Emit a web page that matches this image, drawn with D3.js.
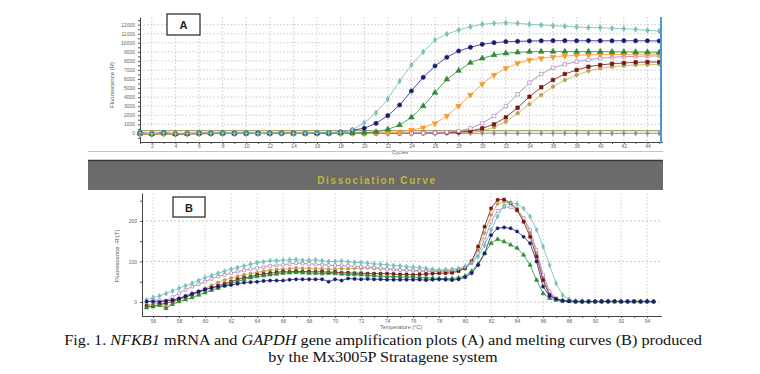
<!DOCTYPE html>
<html><head><meta charset="utf-8">
<script src="https://cdn.jsdelivr.net/npm/d3@7"></script>
<style>body{margin:0;background:#fff}svg{display:block}</style>
</head><body>
<svg id="c" width="760" height="374"></svg>
<script>
// ---------- Panel A : amplification plot ----------
const cycles = d3.range(1, 46);
const cycleTicks = [2,4,6,8,10,12,14,16,18,20,22,24,26,28,30,32,34,36,38,40,42,44];
const fluorTicks = [0,1000,2000,3000,4000,5000,6000,7000,8000,9000,10000,11000,12000];
const thresholdA = 300;

const ampTeal = [20,-60,40,-50,-30,10,0,20,-10,10,-20,0,10,-10,0,30,60,111,407,1148,2259,3777,5777,7555,9000,10300,10972,11414,11780,12044,12154,12222,12154,12044,11970,11897,11823,11750,11675,11675,11600,11565,11490,11380,11306];
const ampNavy = [80,-40,70,-60,-30,20,0,10,-10,0,10,-10,0,10,-20,0,50,150,365,550,1100,1945,3127,4674,6188,7436,8398,9094,9503,9834,10011,10122,10160,10200,10220,10230,10230,10220,10230,10220,10220,10230,10220,10220,10200];
const ampGreen = [-20,-80,30,-60,-40,0,10,20,0,10,-10,0,20,-10,0,10,0,20,30,60,150,440,917,1768,3017,4490,5967,6917,7801,8287,8652,8840,8950,9017,9030,9030,9030,9020,9030,9020,9010,9000,8990,8970,8950];
const ampOrange = [-150,-120,-100,-110,-80,-40,-30,-20,-20,-10,-10,0,-10,0,-20,-10,0,-10,0,10,20,60,150,365,620,1100,1912,3017,4232,5448,6442,7182,7735,8099,8287,8431,8541,8616,8660,8690,8710,8720,8730,8740,8740];
const ampPurple = [-40,-60,-30,-70,-50,-20,-10,0,-10,0,-10,0,10,-10,0,0,-10,0,10,0,-10,0,10,20,30,60,120,254,550,1100,1912,3017,4309,5591,6552,7249,7624,7912,8133,8287,8398,8467,8500,8541,8541];
const ampRed = [-60,-80,-50,-90,-70,-40,-30,-20,-20,-10,-20,-10,0,-10,-10,0,-10,0,0,-10,0,10,0,10,20,40,70,120,250,550,994,1768,2830,4044,5083,5890,6552,6994,7359,7547,7690,7768,7845,7880,7880];
const ampOlive = [-100,-90,-70,-100,-80,-50,-40,-30,-30,-20,-20,-10,-10,-20,-10,0,-10,0,-10,0,0,10,0,10,10,20,40,50,120,250,663,1282,2210,3204,4232,5149,5890,6442,6884,7182,7359,7470,7547,7580,7620];
const ampGray = [0,-20,10,-10,0,10,0,-10,0,10,0,-10,0,0,10,0,-10,0,0,10,0,-10,0,0,10,0,0,-10,0,0,10,0,0,-10,0,0,0,10,0,0,-10,0,0,10,0];

// ---------- Panel B : dissociation (melting) curves ----------
const temps = d3.range(0, 79).map(i => 55.5 + 0.5 * i);
const tempTicks = [56,58,60,62,64,66,68,70,72,74,76,78,80,82,84,86,88,90,92,94];
const derivTicks = [0,100,200];

const melTeal = [5,11,15,21,27,34,40,46,53,60,65,71,76,81,85,89,93,97,99,102,102,103,104,105,103,103,104,102,100,100,101,99,98,97,96,94,93,92,90,89,87,86,85,83,81,79,80,81,83,87,97,112,140,178,211,238,245,242,231,211,178,137,91,46,17,7,3,2,2,1,2,1,1,2,1,1,1,2,1];
const melPurple = [0,5,4,3,12,21,30,38,44,50,57,63,67,71,75,78,81,84,86,89,90,92,94,96,95,94,93,92,91,90,90,89,88,87,86,85,83,81,80,79,78,78,77,77,76,75,75,75,78,83,96,120,153,198,225,234,234,225,207,178,128,67,26,9,3,2,2,1,2,1,1,2,1,1,2,1,1,1,1];
const melOlive = [-8,-5,-3,-12,-2,7,12,18,26,34,41,48,54,59,63,67,70,73,76,78,80,81,82,84,83,83,82,82,81,81,82,82,83,83,84,83,82,82,80,79,78,77,76,76,76,77,77,78,80,86,102,128,170,215,242,248,244,231,207,170,120,61,21,8,3,2,1,1,1,2,1,1,1,2,1,1,2,1,1];
const melRed = [-10,-11,-6,-3,2,7,12,18,24,30,35,40,45,50,56,60,62,67,69,71,73,75,74,76,75,75,74,75,73,74,72,72,71,71,70,70,70,70,69,68,68,67,68,69,70,71,71,72,76,83,100,137,186,231,252,253,244,227,198,161,112,54,17,7,3,2,1,1,1,1,2,1,1,1,1,2,1,1,1];
const melGreen = [-14,-10,-8,-16,-6,1,6,11,17,23,29,34,40,46,51,56,60,63,65,67,69,71,72,73,72,71,71,70,71,70,69,68,68,67,66,65,64,63,63,62,62,62,61,60,59,58,58,58,60,64,76,94,120,145,155,149,141,133,116,91,54,21,9,5,3,2,1,1,1,1,1,2,1,1,1,1,1,2,1];
const melNavy = [1,1,0,3,5,9,15,21,26,31,35,38,40,42,45,48,49,50,52,53,53,53,55,56,56,56,56,56,50,56,53,58,57,56,57,56,56,55,55,55,55,55,55,54,55,56,55,54,56,61,71,91,120,165,182,184,182,174,161,145,100,38,15,7,3,2,1,1,1,1,1,1,2,1,1,1,1,1,1];

// ---------- styles ----------
const ST = {
  teal:   {line:'#7cc6bd', fill:'#7cc6bd', stroke:'#5fb0a6', sym:d3.symbolDiamond},
  navy:   {line:'#3a3a8e', fill:'#1a1a78', stroke:'#1a1a78', sym:d3.symbolCircle},
  green:  {line:'#3b9a45', fill:'#2f8a38', stroke:'#2f8a38', sym:d3.symbolTriangle},
  orange: {line:'#f6a23c', fill:'#f39a2a', stroke:'#f39a2a', sym:d3.symbolTriangle, rot:180},
  purple: {line:'#b888c2', fill:'#ffffff', stroke:'#a772b4', sym:d3.symbolSquare},
  red:    {line:'#8a2a2a', fill:'#761414', stroke:'#761414', sym:d3.symbolSquare},
  olive:  {line:'#c8b560', fill:'#b8a648', stroke:'#a8963a', sym:d3.symbolCircle},
  gray:   {line:'#8c8c8c', fill:'#8c8c8c', stroke:'#8c8c8c', sym:d3.symbolDiamond}
};

const svg = d3.select('#c');
const tickFont = 'Liberation Sans, Arial, sans-serif';

function styleAxis(g){
  g.selectAll('path.domain').attr('stroke','#444').attr('stroke-width',1);
  g.selectAll('.tick line').attr('stroke','#555');
  g.selectAll('.tick text').attr('fill','#666').style('font-size','5px').style('font-family',tickFont);
}

function drawSeries(g, xs, ys, x, y, st, size, lw){
  const line = d3.line().x((d,i)=>x(xs[i])).y(d=>y(d));
  g.append('path').datum(ys).attr('d', line).attr('fill','none')
    .attr('stroke', st.line).attr('stroke-width', lw);
  const sym = d3.symbol().type(st.sym).size(size);
  g.selectAll(null).data(ys).enter().append('path')
    .attr('d', sym)
    .attr('transform', (d,i)=>`translate(${x(xs[i])},${y(d)})` + (st.rot?` rotate(${st.rot})`:''))
    .attr('fill', st.fill).attr('stroke', st.stroke).attr('stroke-width', 0.6);
}

// ================= Panel A =================
const xA = d3.scaleLinear().domain([1, 45.15]).range([140, 661]);
const yA = d3.scaleLinear().domain([-960, 12850]).range([142, 17]);
const gA = svg.append('g');

gA.selectAll(null).data(fluorTicks).enter().append('line')
  .attr('x1', 140).attr('x2', 661).attr('y1', d=>yA(d)).attr('y2', d=>yA(d))
  .attr('stroke','#bdbdbd').attr('stroke-width',0.8).attr('stroke-dasharray','1.5,2');
gA.selectAll(null).data(cycleTicks).enter().append('line')
  .attr('x1', d=>xA(d)).attr('x2', d=>xA(d)).attr('y1', 17).attr('y2', 142)
  .attr('stroke','#bdbdbd').attr('stroke-width',0.8).attr('stroke-dasharray','1.5,2');

gA.append('line').attr('x1',140).attr('x2',661).attr('y1',yA(thresholdA)).attr('y2',yA(thresholdA))
  .attr('stroke','#aaa46a').attr('stroke-width',1.2);

const axYA = gA.append('g').attr('transform','translate(140,0)')
  .call(d3.axisLeft(yA).tickValues(d3.range(-500, 12851, 500)).tickSize(2).tickSizeOuter(0)
    .tickFormat(d => (d >= 0 && d % 1000 === 0) ? d : ''));
styleAxis(axYA);
const axXA = gA.append('g').attr('transform','translate(0,142)')
  .call(d3.axisBottom(xA).tickValues(cycles).tickSize(2).tickSizeOuter(0)
    .tickFormat(d => cycleTicks.includes(d) ? d : ''));
styleAxis(axXA);
axXA.select('path.domain').attr('d','M140,0.5H663');
axXA.selectAll('.tick text').attr('y',4.5).attr('dy','0.35em');

drawSeries(gA, cycles, ampGray, xA, yA, ST.gray, 7, 0.9);
drawSeries(gA, cycles, ampOlive, xA, yA, ST.olive, 9, 0.9);
drawSeries(gA, cycles, ampRed, xA, yA, ST.red, 12, 0.9);
drawSeries(gA, cycles, ampPurple, xA, yA, ST.purple, 12, 0.9);
drawSeries(gA, cycles, ampOrange, xA, yA, ST.orange, 14, 0.9);
drawSeries(gA, cycles, ampGreen, xA, yA, ST.green, 14, 0.9);
drawSeries(gA, cycles, ampNavy, xA, yA, ST.navy, 14, 0.9);
drawSeries(gA, cycles, ampTeal, xA, yA, ST.teal, 9, 0.9);

gA.append('line').attr('x1', xA(45.15)).attr('x2', xA(45.15)).attr('y1', 17).attr('y2', 143)
  .attr('stroke','#4b98d8').attr('stroke-width',2);

gA.append('text').attr('transform','translate(114,85) rotate(-90)').attr('text-anchor','middle')
  .style('font-family',tickFont).style('font-size','6px').attr('fill','#555').text('Fluorescence (R)');
gA.append('text').attr('x',400).attr('y',154).attr('text-anchor','middle')
  .style('font-family',tickFont).style('font-size','5.5px').attr('fill','#666').text('Cycles');
gA.append('rect').attr('x',167).attr('y',14).attr('width',33).attr('height',21)
  .attr('fill','#fff').attr('stroke','#333').attr('stroke-width',1.3);
gA.append('text').attr('x',183.5).attr('y',29).attr('text-anchor','middle')
  .style('font-family',tickFont).style('font-size','11px').style('font-weight','bold').attr('fill','#222').text('A');

// separator
svg.append('line').attr('x1',88).attr('x2',663).attr('y1',151.5).attr('y2',151.5).attr('stroke','#c4c4c4').attr('stroke-width',1);
svg.append('rect').attr('x',88).attr('y',160).attr('width',575).attr('height',30).attr('fill','#6b6b6b');
svg.append('line').attr('x1',88).attr('x2',663).attr('y1',160.5).attr('y2',160.5).attr('stroke','#3a3a3a').attr('stroke-width',1.5);
svg.append('text').attr('x',377).attr('y',183.5).attr('text-anchor','middle')
  .style('font-family',tickFont).style('font-size','10px').style('font-weight','bold').style('letter-spacing','1.6px')
  .attr('fill','#c4b43a').text('Dissociation Curve');

// ================= Panel B =================
const xB = d3.scaleLinear().domain([55.15, 95.3]).range([142, 664]);
const yB = d3.scaleLinear().domain([-34.6, 269]).range([316, 193]);
const gB = svg.append('g');

gB.selectAll(null).data(derivTicks).enter().append('line')
  .attr('x1', 142).attr('x2', 662).attr('y1', d=>yB(d)).attr('y2', d=>yB(d))
  .attr('stroke','#bdbdbd').attr('stroke-width',0.8).attr('stroke-dasharray','2,2');
gB.selectAll(null).data(tempTicks).enter().append('line')
  .attr('x1', d=>xB(d)).attr('x2', d=>xB(d)).attr('y1', 193).attr('y2', 316)
  .attr('stroke','#c4c4c4').attr('stroke-width',0.8).attr('stroke-dasharray','1.5,2');

const axYB = gB.append('g').attr('transform','translate(142,0)')
  .call(d3.axisLeft(yB).tickValues([0,50,100,150,200,250]).tickSize(2).tickSizeOuter(0)
    .tickFormat(d => derivTicks.includes(d) ? d : ''));
styleAxis(axYB);
const axXB = gB.append('g').attr('transform','translate(0,316)')
  .call(d3.axisBottom(xB).tickValues(d3.range(56, 95, 1)).tickSize(2).tickSizeOuter(0)
    .tickFormat(d => tempTicks.includes(d) ? d : ''));
styleAxis(axXB);
axXB.select('path.domain').attr('d','M142,0.5H662');
axXB.selectAll('.tick text').attr('y',5).attr('dy','0.35em');

drawSeries(gB, temps, melOlive, xB, yB, ST.olive, 7, 0.9);
drawSeries(gB, temps, melPurple, xB, yB, ST.purple, 8, 0.9);
drawSeries(gB, temps, melRed, xB, yB, ST.red, 8, 0.9);
drawSeries(gB, temps, melTeal, xB, yB, ST.teal, 7, 0.9);
drawSeries(gB, temps, melGreen, xB, yB, ST.green, 8, 0.9);
drawSeries(gB, temps, melNavy, xB, yB, ST.navy, 8, 0.9);

gB.append('text').attr('transform','translate(119,256) rotate(-90)').attr('text-anchor','middle')
  .style('font-family',tickFont).style('font-size','6px').attr('fill','#555').text("Fluorescence -R'(T)");
gB.append('text').attr('x',401).attr('y',329).attr('text-anchor','middle')
  .style('font-family',tickFont).style('font-size','5.5px').attr('fill','#666').text('Temperature (°C)');
gB.append('rect').attr('x',173).attr('y',197).attr('width',32).attr('height',20)
  .attr('fill','#fff').attr('stroke','#333').attr('stroke-width',1.3);
gB.append('text').attr('x',189).attr('y',211.5).attr('text-anchor','middle')
  .style('font-family',tickFont).style('font-size','11px').style('font-weight','bold').attr('fill','#222').text('B');

// ================= Caption =================
const cap = svg.append('g').attr('transform','translate(383,0) scale(1.16,1)')
  .style('font-family','Liberation Serif, Times New Roman, serif').style('font-size','14px').attr('fill','#111');
const l1 = cap.append('text').attr('x',0).attr('y',345).attr('text-anchor','middle');
l1.append('tspan').text('Fig. 1. ');
l1.append('tspan').style('font-style','italic').text('NFKB1');
l1.append('tspan').text(' mRNA and ');
l1.append('tspan').style('font-style','italic').text('GAPDH');
l1.append('tspan').text(' gene amplification plots (A) and melting curves (B) produced');
cap.append('text').attr('x',0).attr('y',362).attr('text-anchor','middle').text('by the Mx3005P Stratagene system');
</script>
</body></html>
